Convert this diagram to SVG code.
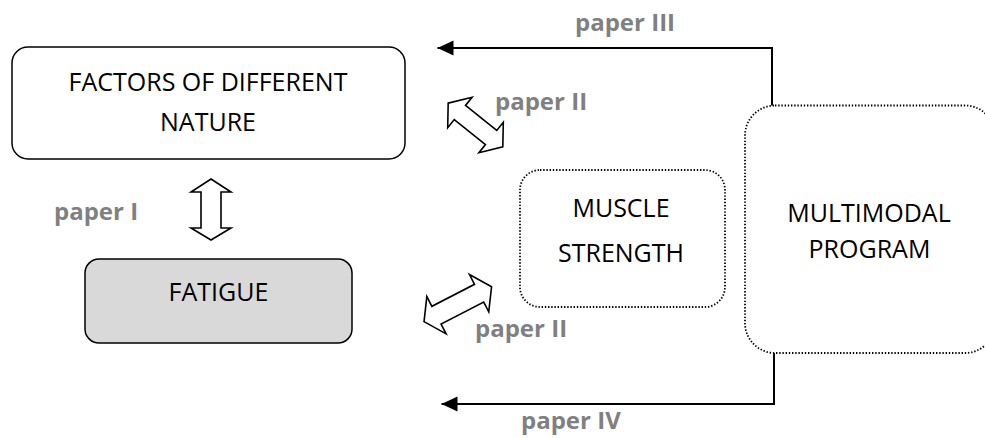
<svg xmlns="http://www.w3.org/2000/svg" width="985" height="438" viewBox="0 0 985 438">
<style>
.box{fill:#fff;stroke:#000;stroke-width:1.5}
.dot{fill:#fff;stroke:#000;stroke-width:1.8;stroke-dasharray:1.4 1.8}
.t{font-family:"Open Sans","Liberation Sans",sans-serif;font-size:25px;fill:#000;text-anchor:middle}
.lbl{font-family:"Open Sans","Liberation Sans",sans-serif;font-size:24px;font-weight:bold;fill:#808080}
.dbl{fill:#fff;stroke:#000;stroke-width:1.6;stroke-linejoin:miter}
.ln{fill:none;stroke:#000;stroke-width:2}
</style>
<defs>
<marker id="ah" markerUnits="userSpaceOnUse" markerWidth="18" markerHeight="18" refX="16" refY="7.5" orient="auto">
<path d="M0,0 L16,7.5 L0,15 Z" fill="#000"/>
</marker>
</defs>
<g id="factors">
<rect class="box" x="12" y="47" width="393" height="112" rx="16"/>
<text class="t" x="208" y="91">FACTORS OF DIFFERENT</text>
<text class="t" x="208" y="131">NATURE</text>
</g>
<g id="fatigue">
<rect class="box" x="85" y="259" width="267" height="84" rx="14" style="fill:#d9d9d9"/>
<text class="t" x="218.5" y="301">FATIGUE</text>
</g>
<g id="muscle">
<rect class="dot" x="520" y="170" width="205" height="137" rx="20"/>
<text class="t" x="621" y="217">MUSCLE</text>
<text class="t" x="621" y="262">STRENGTH</text>
</g>
<g id="multimodal">
<rect class="dot" x="745" y="105.5" width="250" height="247.5" rx="30"/>
<text class="t" x="869" y="222">MULTIMODAL</text>
<text class="t" x="869.5" y="258">PROGRAM</text>
</g>
<g id="connectors">
<polygon class="dbl" points="211,179 231,192 221,192 221,228 231,228 211,240 191,228 201,228 201,192 191,192"/>
<polygon class="dbl" transform="translate(475.5,125) rotate(38.7)" points="-35,0 -20,-19.5 -20,-9 20,-9 20,-19.5 35,0 20,19.5 20,9 -20,9 -20,19.5"/>
<polygon class="dbl" transform="translate(457.8,304.2) rotate(-27.3)" points="-38,0 -24,-21 -24,-10 24,-10 24,-21 38,0 24,21 24,10 -24,10 -24,21"/>
<path class="ln" d="M772,105.5 V48 H437.5" marker-end="url(#ah)"/>
<path class="ln" d="M774,353 V404 H441.5" marker-end="url(#ah)"/>
<text class="lbl" x="575" y="31">paper III</text>
<text class="lbl" x="495" y="110">paper II</text>
<text class="lbl" x="54" y="220">paper I</text>
<text class="lbl" x="475" y="337">paper II</text>
<text class="lbl" x="521" y="429">paper IV</text>
</g>
</svg>
